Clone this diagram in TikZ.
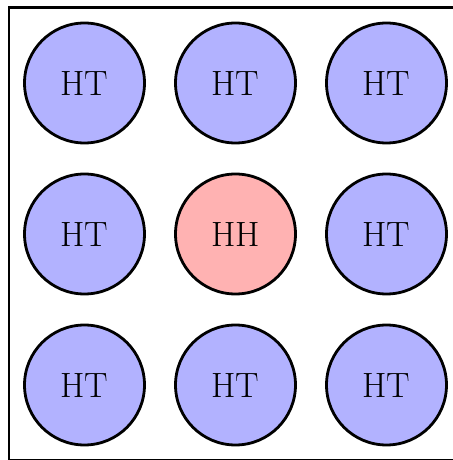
\documentclass[tikz,border=0pt]{standalone}
\usetikzlibrary{backgrounds}
\newcommand{\cellxa}{1.69cm}
\newcommand{\cellxb}{4.71cm}
\newcommand{\cellxc}{7.73cm}
\newcommand{\cellya}{7.54cm}
\newcommand{\cellyb}{4.52cm}
\newcommand{\cellyc}{1.50cm}
\tikzset{
  site/.style={circle,draw,line width=1.6pt,minimum size=2.40cm,
    inner sep=0pt,font=\fontsize{20}{22}\selectfont},
  ht/.style={site,fill=blue!30},
  hh/.style={site,fill=red!30}
}

\begin{document}
\begin{tikzpicture}
    \useasboundingbox (0,0) rectangle (9.06,9.2);
    \draw[line width=1.6pt] (0.18,0.0) rectangle (9.24,9.05);

    \node (ta) at (\cellxa, \cellya) [ht] {HT};
    \node (tb) at (\cellxb, \cellya) [ht] {HT};
    \node (tc) at (\cellxc, \cellya) [ht] {HT};
    \node (ma) at (\cellxa, \cellyb) [ht] {HT};
    \node (mb) at (\cellxb, \cellyb) [hh] {HH};
    \node (mc) at (\cellxc, \cellyb) [ht] {HT};
    \node (ba) at (\cellxa, \cellyc) [ht] {HT};
    \node (bb) at (\cellxb, \cellyc) [ht] {HT};
    \node (bc) at (\cellxc, \cellyc) [ht] {HT};
  \end{tikzpicture}
\end{document}
